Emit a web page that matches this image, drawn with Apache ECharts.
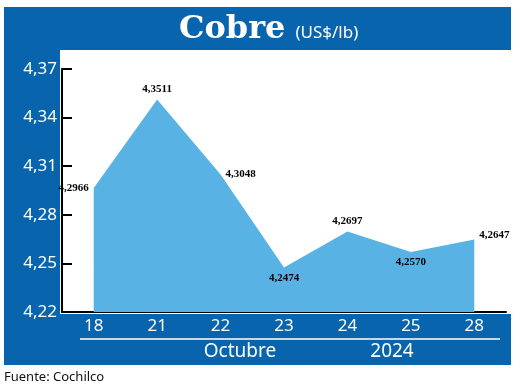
<!DOCTYPE html>
<html><head><meta charset="utf-8">
<script src="https://cdn.jsdelivr.net/npm/echarts@6/dist/echarts.min.js"></script>
<style>html,body{margin:0;padding:0;background:#fff}#c{width:520px;height:387px}</style>
</head><body><div id="c"></div>
<script>
const categories = ['18','21','22','23','24','25','28'];
const values = [4.2966, 4.3511, 4.3048, 4.2474, 4.2697, 4.2570, 4.2647];
const labelPositions = ['left','top','right','bottom','top','bottom','right'];
const yTicks = [4.22, 4.25, 4.28, 4.31, 4.34, 4.37];
const monthLabel = 'Octubre';
const yearLabel = '2024';

const BLUE = '#0864ad';
const fmt = v => v.toFixed(4).replace('.', ',');

const chart = echarts.init(document.getElementById('c'), null, {renderer: 'canvas'});
chart.setOption({
  backgroundColor: '#fff',
  animation: false,
  title: {
    text: '{a|Cobre}  {b|(US$/lb)}',
    left: 174, top: 9,
    textStyle: {
      rich: {
        a: {fontFamily: 'DejaVu Serif', fontWeight: 'bold', fontSize: 32, color: '#fff'},
        b: {fontFamily: 'Noto Sans', fontWeight: 'normal', fontSize: 17, color: '#fff', padding: [6,0,0,0]}
      }
    }
  },
  graphic: [
    {type: 'rect', z: -10, silent: true, shape: {x: 4, y: 7, width: 507, height: 43}, style: {fill: BLUE}},
    {type: 'rect', z: -10, silent: true, shape: {x: 4, y: 49, width: 56, height: 268}, style: {fill: BLUE}},
    {type: 'rect', z: -10, silent: true, shape: {x: 4, y: 314, width: 507, height: 51}, style: {fill: BLUE}},
    {type: 'line', z: -5, silent: true, shape: {x1: 80, y1: 339, x2: 500, y2: 339}, style: {stroke: '#fff', lineWidth: 1.5}},
    {type: 'text', z: -5, silent: true, style: {text: monthLabel, x: 240, y: 352, align: 'center', verticalAlign: 'middle', fill: '#fff', font: '19px "Noto Sans"'}},
    {type: 'text', z: -5, silent: true, style: {text: yearLabel, x: 392, y: 352, align: 'center', verticalAlign: 'middle', fill: '#fff', font: '19px "Noto Sans"'}},
    {type: 'text', silent: true, style: {text: 'Fuente: Cochilco', x: 4, y: 377, verticalAlign: 'middle', fill: '#111', font: '13px "Noto Sans"'}}
  ],
  grid: {left: 62, right: 14, top: 69, bottom: 75, containLabel: false},
  xAxis: {
    type: 'category',
    data: categories,
    boundaryGap: true,
    axisLine: {lineStyle: {color: '#000', width: 2}},
    axisTick: {show: false},
    axisLabel: {color: '#fff', fontFamily: 'Noto Sans', fontSize: 17, margin: 6}
  },
  yAxis: {
    type: 'value',
    min: yTicks[0], max: yTicks[yTicks.length - 1], interval: 0.03,
    axisLine: {show: true, lineStyle: {color: '#000', width: 2}},
    axisTick: {show: true, inside: true, length: 10, lineStyle: {color: '#000', width: 2}},
    splitLine: {show: false},
    axisLabel: {color: '#fff', fontFamily: 'Noto Sans', fontSize: 17, margin: 5,
      formatter: v => v.toFixed(2).replace('.', ',')}
  },
  series: [{
    type: 'line',
    data: values.map((v, i) => ({value: v, label: {position: labelPositions[i], offset: i === 6 ? [0, -4] : [0, 0]}})),
    symbol: 'circle',
    symbolSize: 2,
    showSymbol: true,
    showAllSymbol: true,
    itemStyle: {color: 'rgba(0,0,0,0)', borderWidth: 0},
    lineStyle: {width: 0},
    areaStyle: {color: '#58b3e4', opacity: 1},
    label: {
      show: true,
      formatter: p => fmt(p.value),
      fontFamily: 'Liberation Serif',
      fontWeight: 'bold',
      fontSize: 11,
      color: '#000',
      distance: 4
    }
  }]
});
</script></body></html>
